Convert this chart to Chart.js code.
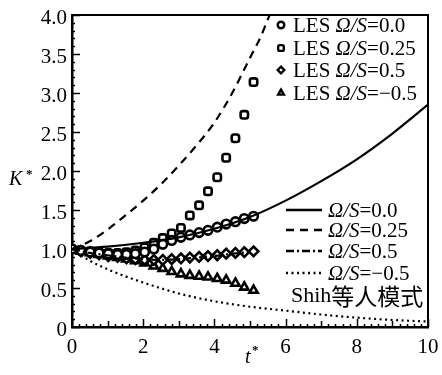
<!DOCTYPE html>
<html>
<head>
<meta charset="utf-8">
<script src="https://cdn.jsdelivr.net/npm/chart.js@4/dist/chart.umd.min.js"></script>
<style>
  html, body { margin: 0; padding: 0; background: #fff; }
  #wrap { width: 442px; height: 375px; position: relative; }
</style>
</head>
<body>
<div id="wrap"><canvas id="myChart" width="442" height="375"></canvas></div>
<script>
// LES data (markers)
const tLes = [0, 0.25, 0.51, 0.76, 1.02, 1.28, 1.53, 1.78, 2.04, 2.3, 2.55, 2.8, 3.06, 3.31, 3.57, 3.82, 4.08, 4.33, 4.59, 4.84, 5.1];
const les00 = [1.0, 0.98, 0.96, 0.95, 0.94, 0.93, 0.93, 0.94, 0.96, 1.0, 1.06, 1.11, 1.15, 1.18, 1.21, 1.24, 1.28, 1.32, 1.35, 1.39, 1.42];
const les025 = [1.0, 0.98, 0.97, 0.96, 0.95, 0.95, 0.96, 0.98, 1.02, 1.08, 1.14, 1.2, 1.27, 1.43, 1.56, 1.74, 1.92, 2.17, 2.42, 2.72, 3.14];
const les05 = [1.0, 0.97, 0.95, 0.93, 0.91, 0.9, 0.88, 0.87, 0.86, 0.86, 0.86, 0.87, 0.88, 0.89, 0.9, 0.91, 0.92, 0.94, 0.95, 0.96, 0.97];
const lesM05 = [1.0, 0.97, 0.95, 0.93, 0.91, 0.89, 0.87, 0.85, 0.82, 0.78, 0.75, 0.71, 0.68, 0.66, 0.65, 0.64, 0.62, 0.6, 0.56, 0.51, 0.47];

// Shih model curves
const tShih = [0, 1, 2, 3, 4, 5, 6, 7, 8, 9, 10];
const shih00 = [1.0, 1.03, 1.08, 1.15, 1.26, 1.41, 1.62, 1.87, 2.15, 2.48, 2.85];
const tShihM05 = [0, 0.5, 1, 1.5, 2, 3, 4, 5, 6, 7, 8, 9, 10];
const shihM05 = [1.0, 0.85, 0.74, 0.65, 0.57, 0.43, 0.33, 0.26, 0.21, 0.16, 0.12, 0.09, 0.07];
const tShih025 = [0, 0.5, 1, 1.5, 2, 2.5, 3, 3.5, 4, 4.5, 5, 5.3, 5.55];
const shih025 = [1.0, 1.1, 1.25, 1.43, 1.62, 1.83, 2.07, 2.33, 2.62, 3.0, 3.45, 3.72, 4.0];
const tShih05 = [0, 0.5, 1, 1.5, 2, 2.5, 3, 3.5, 4, 4.5, 5];
const shih05 = [1.0, 0.95, 0.92, 0.89, 0.87, 0.86, 0.87, 0.89, 0.91, 0.94, 0.96];

const xTicks = [0, 2, 4, 6, 8, 10];
const yTicks = [0, 0.5, 1.0, 1.5, 2.0, 2.5, 3.0, 3.5, 4.0];

const serif = "'Liberation Serif', 'Times New Roman', serif";

function pts(xs, ys) {
    return xs.map(function(x, i) { return { x: x, y: ys[i] }; });
}

function lineSet(label, xs, ys, dash) {
    return {
        label: label, data: pts(xs, ys), showLine: true, pointRadius: 0,
        borderColor: '#000', borderWidth: 2.2, borderDash: dash,
        cubicInterpolationMode: 'monotone'
    };
}

function markSet(label, ys, style, r) {
    return {
        label: label, data: pts(tLes, ys), showLine: false,
        pointStyle: style, pointRadius: r, pointBorderWidth: 2.6,
        pointBorderColor: '#000', pointBackgroundColor: '#fff',
        borderColor: '#000', backgroundColor: '#fff'
    };
}

const lineSets = [
    lineSet('\u03A9/S=0.0', tShih, shih00, []),
    lineSet('\u03A9/S=0.25', tShih025, shih025, [8, 6]),
    lineSet('\u03A9/S=0.5', tShih05, shih05, [8, 3, 2, 3]),
    lineSet('\u03A9/S=\u22120.5', tShihM05, shihM05, [2, 3.5])
];
const markSets = [
    markSet('LES \u03A9/S=0.0', les00, 'circle', 4.3),
    markSet('LES \u03A9/S=0.25', les025, 'rectRounded', 4.3),
    markSet('LES \u03A9/S=0.5', les05, 'rectRot', 4.8),
    markSet('LES \u03A9/S=\u22120.5', lesM05, 'triangle', 4.8)
];

// draw "prefix" + italic Ω/S + rest
function drawLabel(ctx, x, y, prefix, rest) {
    ctx.textBaseline = 'middle';
    ctx.textAlign = 'left';
    ctx.fillStyle = '#000';
    ctx.font = '21px ' + serif;
    ctx.fillText(prefix, x, y);
    x += ctx.measureText(prefix).width;
    ctx.font = 'italic 21px ' + serif;
    ctx.fillText('\u03A9/S', x, y);
    x += ctx.measureText('\u03A9/S').width;
    ctx.font = '21px ' + serif;
    ctx.fillText(rest, x, y);
}

const extras = {
    id: 'extras',
    afterDraw: function(chart) {
        const ctx = chart.ctx;
        const a = chart.chartArea;
        const xs = chart.scales.x, ys = chart.scales.y;
        ctx.save();
        ctx.strokeStyle = '#000';
        // frame top/right
        ctx.lineWidth = 2;
        ctx.beginPath();
        ctx.moveTo(a.left, a.top); ctx.lineTo(a.right, a.top); ctx.lineTo(a.right, a.bottom);
        ctx.stroke();
        // inward ticks
        ctx.lineWidth = 1.5;
        ctx.beginPath();
        for (let i = 0; i <= 50; i++) {
            const v = i * 0.2;
            const px = Math.round(xs.getPixelForValue(v)) + 0.5;
            const len = (i % 10 === 0) ? 8 : (i % 5 === 0 ? 6 : 3);
            ctx.moveTo(px, a.bottom); ctx.lineTo(px, a.bottom - len);
        }
        for (let i = 0; i <= 40; i++) {
            const v = i * 0.1;
            const py = Math.round(ys.getPixelForValue(v)) + 0.5;
            const len = (i % 5 === 0) ? 8 : 3;
            ctx.moveTo(a.left, py); ctx.lineTo(a.left + len, py);
        }
        ctx.stroke();

        // axis titles
        ctx.fillStyle = '#000';
        ctx.textBaseline = 'alphabetic';
        ctx.textAlign = 'left';
        ctx.font = 'italic 20px ' + serif;
        ctx.fillText('K', 9, 185);
        ctx.font = 'bold 13px ' + serif;
        ctx.fillText('*', 26, 178);
        ctx.font = 'italic 20px ' + serif;
        ctx.fillText('t', 245, 363);
        ctx.font = 'bold 13px ' + serif;
        ctx.fillText('*', 252, 354);

        // LES legend (markers)
        const rowsA = [25, 48, 70, 93];
        const restA = ['=0.0', '=0.25', '=0.5', '=\u22120.5'];
        markSets.forEach(function(ds, i) {
            ctx.lineWidth = 2.4;
            ctx.strokeStyle = '#000';
            ctx.fillStyle = '#fff';
            Chart.helpers.drawPoint(ctx, {
                pointStyle: ds.pointStyle, radius: 3.3, rotation: 0, borderWidth: 2.4
            }, 281, rowsA[i]);
            drawLabel(ctx, 293, rowsA[i] + 1, 'LES ', restA[i]);
        });

        // Shih legend (lines)
        const rowsB = [210, 230, 251, 273];
        lineSets.forEach(function(ds, i) {
            ctx.strokeStyle = '#000';
            ctx.lineWidth = 2.4;
            ctx.setLineDash(ds.borderDash);
            ctx.beginPath();
            ctx.moveTo(286, rowsB[i]); ctx.lineTo(322, rowsB[i]);
            ctx.stroke();
            ctx.setLineDash([]);
            drawLabel(ctx, 328, rowsB[i] + 1, '', restA[i]);
        });
        ctx.textAlign = 'left';
        ctx.textBaseline = 'middle';
        ctx.font = '22px ' + serif;
        ctx.fillText('Shih', 291, 296);
        const w = ctx.measureText('Shih').width;
        ctx.font = "23px 'Noto Sans CJK SC', sans-serif";
        ctx.fillText('\u7B49\u4EBA\u6A21\u5F0F', 291 + w, 296);
        ctx.restore();
    }
};

const myChart = document.getElementById('myChart').getContext('2d');

const chart = new Chart(myChart, {
    type: 'scatter',
    data: { datasets: lineSets.concat(markSets) },
    options: {
        responsive: false,
        animation: false,
        layout: { padding: { top: 15, right: 14, left: 0, bottom: 0 } },
        plugins: { legend: { display: false }, tooltip: { enabled: false } },
        scales: {
            x: {
                type: 'linear', min: 0, max: 10,
                afterFit: function(s) {
                    s.height = 48;
                    s.paddingLeft = 0; s.paddingRight = 0;
                },
                afterBuildTicks: function(s) { s.ticks = xTicks.map(function(v) { return { value: v }; }); },
                grid: { display: false, drawTicks: false },
                border: { color: '#000', width: 2.5 },
                ticks: { color: '#000', padding: 8, maxRotation: 0, font: { family: serif, size: 21 } }
            },
            y: {
                type: 'linear', min: 0, max: 4,
                afterFit: function(s) {
                    s.width = 72;
                    s.paddingTop = 0; s.paddingBottom = 0;
                },
                afterBuildTicks: function(s) { s.ticks = yTicks.map(function(v) { return { value: v }; }); },
                grid: { display: false, drawTicks: false },
                border: { color: '#000', width: 2.5 },
                ticks: {
                    color: '#000', padding: 5, labelOffset: 3, font: { family: serif, size: 21 },
                    callback: function(v) { return v === 0 ? '0' : v.toFixed(1); }
                }
            }
        }
    },
    plugins: [extras]
});
</script>
</body>
</html>
